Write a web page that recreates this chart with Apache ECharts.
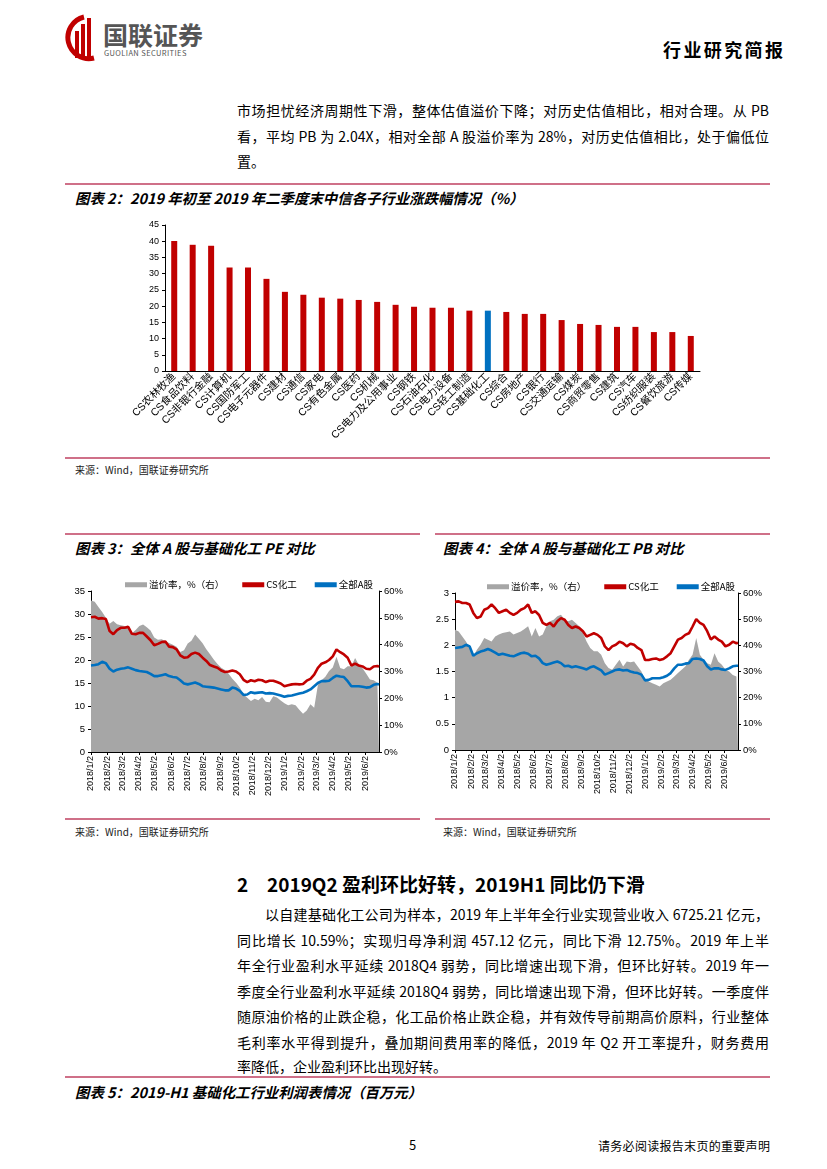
<!DOCTYPE html>
<html><head><meta charset="utf-8">
<script src="https://cdn.jsdelivr.net/npm/echarts@6/dist/echarts.min.js"></script>
<style>
body{margin:0;background:#fff;width:827px;height:1169px;position:relative;overflow:hidden;font-family:"Noto Sans CJK SC","Liberation Sans",sans-serif;color:#000;}
.a{position:absolute;}
.ln{position:absolute;font-size:14px;line-height:20px;height:20px;text-align:justify;text-align-last:justify;}
.bar{position:absolute;height:0;border-top:2px solid #CF7088;}
.ttl{position:absolute;font-size:14.4px;font-weight:700;font-style:italic;line-height:18px;white-space:nowrap;}
.src{position:absolute;font-size:10px;line-height:14px;color:#222;white-space:nowrap;}
.chart{position:absolute;}
</style></head>
<body>
<!-- header -->
<svg class="a" style="left:60px;top:14px" width="44" height="48" viewBox="0 0 44 48">
  <path d="M24 3 A21 21 0 1 0 34 44" stroke="#C00000" stroke-width="5" fill="none"/>
  <rect x="15" y="17" width="4" height="27" fill="#C00000"/>
  <rect x="21" y="10" width="4" height="34" fill="#C00000"/>
  <rect x="27" y="4" width="4" height="40" fill="#C00000"/>
</svg>
<div class="a" style="left:103px;top:20px;font-size:25px;font-weight:700;color:#555;line-height:28px;">国联证券</div>
<div class="a" style="left:104px;top:48px;font-size:7.5px;color:#555;line-height:9px;letter-spacing:0.4px;">GUOLIAN SECURITIES</div>
<div class="a" style="left:663px;top:38px;font-size:18px;font-weight:700;line-height:22px;letter-spacing:2.4px;">行业研究简报</div>

<!-- paragraph -->
<div class="ln" style="left:237px;top:100px;width:532px;">市场担忧经济周期性下滑，整体估值溢价下降；对历史估值相比，相对合理。从 PB</div>
<div class="ln" style="left:237px;top:126px;width:532px;">看，平均 PB 为 2.04X，相对全部 A 股溢价率为 28%，对历史估值相比，处于偏低位</div>
<div class="a" style="left:237px;top:151px;font-size:14px;line-height:20px;">置。</div>

<!-- figure 2 -->
<div class="bar" style="left:65px;top:183px;width:705px;"></div>
<div class="ttl" style="left:75px;top:189px;">图表 2：2019 年初至 2019 年二季度末中信各子行业涨跌幅情况（%）</div>
<div id="c2" class="chart" style="left:60px;top:210px;width:710px;height:245px;"></div>
<div class="bar" style="left:65px;top:457px;width:705px;"></div>
<div class="src" style="left:75px;top:463px;">来源：Wind，国联证券研究所</div>

<!-- figure 3 / 4 -->
<div class="bar" style="left:65px;top:533px;width:355px;"></div>
<div class="ttl" style="left:75px;top:539px;">图表 3：全体 A 股与基础化工 PE 对比</div>
<div class="bar" style="left:435px;top:533px;width:335px;"></div>
<div class="ttl" style="left:443px;top:539px;">图表 4：全体 A 股与基础化工 PB 对比</div>
<div id="c3" class="chart" style="left:60px;top:570px;width:360px;height:245px;"></div>
<div id="c4" class="chart" style="left:430px;top:570px;width:340px;height:245px;"></div>
<div class="bar" style="left:65px;top:818px;width:355px;"></div>
<div class="src" style="left:75px;top:825px;">来源：Wind，国联证券研究所</div>
<div class="bar" style="left:435px;top:818px;width:335px;"></div>
<div class="src" style="left:443px;top:825px;">来源：Wind，国联证券研究所</div>

<!-- section 2 -->
<div class="a" style="left:237px;top:871px;font-size:19px;font-weight:700;line-height:26px;">2</div>
<div class="a" style="left:267px;top:871px;font-size:19px;font-weight:700;line-height:26px;white-space:nowrap;">2019Q2 盈利环比好转，2019H1 同比仍下滑</div>
<div class="ln" style="left:265px;top:904px;width:504px;">以自建基础化工公司为样本，2019 年上半年全行业实现营业收入 6725.21 亿元，</div>
<div class="ln" style="left:237px;top:930px;width:532px;">同比增长 10.59%；实现归母净利润 457.12 亿元，同比下滑 12.75%。2019 年上半</div>
<div class="ln" style="left:237px;top:955px;width:532px;">年全行业盈利水平延续 2018Q4 弱势，同比增速出现下滑，但环比好转。2019 年一</div>
<div class="ln" style="left:237px;top:981px;width:532px;">季度全行业盈利水平延续 2018Q4 弱势，同比增速出现下滑，但环比好转。一季度伴</div>
<div class="ln" style="left:237px;top:1006px;width:532px;">随原油价格的止跌企稳，化工品价格止跌企稳，并有效传导前期高价原料，行业整体</div>
<div class="ln" style="left:237px;top:1032px;width:532px;">毛利率水平得到提升，叠加期间费用率的降低，2019 年 Q2 开工率提升，财务费用</div>
<div class="a" style="left:237px;top:1056px;font-size:14px;line-height:20px;">率降低，企业盈利环比出现好转。</div>

<div class="bar" style="left:65px;top:1076px;width:705px;"></div>
<div class="ttl" style="left:75px;top:1083px;">图表 5：2019-H1 基础化工行业利润表情况（百万元）</div>

<!-- footer -->
<div class="a" style="left:409px;top:1137px;font-size:13px;line-height:16px;">5</div>
<div class="a" style="left:598px;top:1138px;font-size:12px;line-height:16px;letter-spacing:0.3px;">请务必阅读报告末页的重要声明</div>

<script>
// ---------- Figure 2 data ----------
const industries = ['CS农林牧渔','CS食品饮料','CS非银行金融','CS计算机','CS国防军工','CS电子元器件','CS建材','CS通信','CS家电','CS有色金属','CS医药','CS机械','CS电力及公用事业','CS钢铁','CS石油石化','CS电力设备','CS轻工制造','CS基础化工','CS综合','CS房地产','CS银行','CS交通运输','CS煤炭','CS商贸零售','CS建筑','CS汽车','CS纺织服装','CS餐饮旅游','CS传媒'];
const changes = [40.1,38.9,38.6,31.9,31.9,28.4,24.4,23.5,22.6,22.3,21.9,21.3,20.4,19.8,19.5,19.5,18.6,18.6,18.2,17.6,17.6,15.7,14.5,14.2,13.6,13.6,12.0,12.0,10.8];
const highlight = 'CS基础化工';

// ---------- Figures 3/4 data (weekly readings) ----------
const sampleDates = ['2018/1/2','2018/1/9','2018/1/16','2018/1/23','2018/1/30','2018/2/6','2018/2/13','2018/2/20','2018/2/27','2018/3/6','2018/3/13','2018/3/20','2018/3/27','2018/4/3','2018/4/10','2018/4/17','2018/4/24','2018/5/1','2018/5/8','2018/5/15','2018/5/22','2018/5/29','2018/6/5','2018/6/12','2018/6/19','2018/6/26','2018/7/3','2018/7/10','2018/7/17','2018/7/24','2018/7/31','2018/8/7','2018/8/14','2018/8/21','2018/8/28','2018/9/4','2018/9/11','2018/9/18','2018/9/25','2018/10/2','2018/10/9','2018/10/16','2018/10/23','2018/10/30','2018/11/6','2018/11/13','2018/11/20','2018/11/27','2018/12/4','2018/12/11','2018/12/18','2018/12/25','2019/1/1','2019/1/8','2019/1/15','2019/1/22','2019/1/29','2019/2/5','2019/2/12','2019/2/19','2019/2/26','2019/3/5','2019/3/12','2019/3/19','2019/3/26','2019/4/2','2019/4/9','2019/4/16','2019/4/23','2019/4/30','2019/5/7','2019/5/14','2019/5/21','2019/5/28','2019/6/4','2019/6/11','2019/6/18','2019/6/25','2019/6/28'];
const tickLabels = ['2018/1/2','2018/2/2','2018/3/2','2018/4/2','2018/5/2','2018/6/2','2018/7/2','2018/8/2','2018/9/2','2018/10/2','2018/11/2','2018/12/2','2019/1/2','2019/2/2','2019/3/2','2019/4/2','2019/5/2','2019/6/2'];

const pePremium = [56.5,56.0,54.0,52.2,50.0,47.8,48.8,47.6,47.2,47.0,46.0,44.3,45.5,47.0,47.5,46.5,45.3,42.7,41.8,42.0,41.3,40.6,40.0,39.2,37.3,37.9,40.4,41.5,43.8,42.2,40.5,38.3,36.4,34.5,32.8,31.4,30.6,29.2,27.3,25.8,24.0,21.5,20.2,19.0,19.8,19.3,20.5,18.7,18.5,20.8,20.3,19.2,18.2,17.4,17.8,17.4,15.7,14.3,15.5,17.8,16.5,25.0,26.7,28.0,30.2,31.5,35.5,31.3,30.8,32.0,32.0,35.0,32.5,31.2,29.2,27.0,26.7,25.8,25.5];
const peChem = [29.3,29.4,29.0,29.1,28.9,26.3,25.6,26.5,27.0,27.0,27.2,25.7,25.6,25.9,25.9,25.1,24.3,23.2,23.5,23.9,24.0,22.9,22.8,22.3,21.0,20.5,20.6,21.3,21.6,21.3,20.5,19.8,18.9,18.6,18.3,17.7,17.4,17.5,17.7,17.5,16.9,15.7,15.2,15.6,15.4,15.7,15.6,15.2,15.5,15.5,15.2,14.9,14.3,14.5,14.7,14.8,14.7,14.8,15.5,15.9,16.8,18.3,19.2,19.5,20.0,20.8,22.3,21.7,21.2,20.5,18.8,19.2,18.8,18.6,18.1,18.0,18.6,18.7,18.5];
const peAll = [18.8,18.9,19.1,19.6,19.3,18.1,17.5,17.9,18.1,18.2,18.4,18.1,17.8,17.6,17.5,17.4,17.0,16.5,16.5,16.7,16.9,16.5,16.3,16.2,15.6,14.9,14.7,14.9,15.1,14.8,14.3,14.2,14.1,14.0,13.8,13.6,13.4,13.4,14.0,13.8,13.3,12.4,12.5,13.0,12.8,12.9,13.0,12.7,12.8,12.7,12.5,12.3,12.0,12.2,12.3,12.5,12.7,12.9,13.2,13.6,14.3,15.0,15.4,15.4,15.5,16.1,16.6,16.4,16.3,15.4,14.3,14.3,14.3,14.2,14.0,14.1,14.6,14.8,14.7];

const pbPremium = [46.0,45.3,43.4,41.5,39.0,35.8,38.3,40.2,42.8,42.1,41.5,43.4,44.1,44.7,45.0,45.3,44.1,44.7,45.3,46.2,47.3,43.4,46.6,43.4,44.1,47.3,49.2,49.8,51.1,51.7,49.8,49.2,49.8,48.5,47.3,44.7,41.5,39.0,37.7,37.7,36.4,33.2,31.3,30.7,32.6,34.5,31.9,33.8,33.5,33.8,31.9,30.0,26.8,26.2,25.5,24.9,24.3,25.5,26.2,26.8,28.1,29.4,30.7,31.9,34.5,36.4,42.8,36.4,34.5,33.2,32.6,37.0,33.8,32.6,30.7,30.0,28.7,28.1,27.8];
const pbChem = [2.83,2.84,2.81,2.81,2.78,2.62,2.52,2.55,2.68,2.71,2.78,2.71,2.62,2.65,2.68,2.62,2.58,2.62,2.68,2.71,2.78,2.62,2.65,2.58,2.43,2.39,2.43,2.36,2.46,2.52,2.49,2.39,2.33,2.36,2.33,2.27,2.17,2.20,2.23,2.20,2.14,1.98,1.91,1.98,2.01,2.07,2.04,1.98,2.03,2.01,1.95,1.91,1.72,1.72,1.74,1.75,1.72,1.74,1.79,1.85,1.98,2.11,2.14,2.20,2.23,2.36,2.50,2.43,2.39,2.27,2.11,2.17,2.11,2.07,1.98,2.01,2.07,2.04,2.05];
const pbAll = [1.95,1.96,1.97,2.01,1.98,1.80,1.85,1.88,1.90,1.93,1.90,1.86,1.82,1.84,1.82,1.80,1.79,1.82,1.85,1.86,1.84,1.79,1.80,1.75,1.66,1.63,1.65,1.67,1.69,1.66,1.60,1.61,1.58,1.60,1.58,1.56,1.54,1.58,1.60,1.56,1.52,1.44,1.47,1.50,1.53,1.54,1.52,1.53,1.50,1.48,1.47,1.44,1.33,1.34,1.37,1.37,1.37,1.39,1.42,1.47,1.56,1.63,1.63,1.65,1.66,1.74,1.75,1.74,1.71,1.60,1.54,1.56,1.56,1.54,1.53,1.56,1.60,1.61,1.61];

const seriesNames = ['溢价率，%（右）','CS化工','全部A股'];
const colors = {area:'#A6A6A6', chem:'#C00000', all:'#0070C0'};
const FONT = '"Liberation Sans","Noto Sans CJK SC",sans-serif';

// ---------- Figure 2 ----------
const c2 = echarts.init(document.getElementById('c2'), null, {renderer:'canvas'});
c2.setOption({
  animation:false,
  textStyle:{fontFamily:FONT},
  grid:{left:105,right:70,top:15,bottom:84},
  xAxis:{type:'category',data:industries,
    axisLine:{lineStyle:{color:'#000',width:1}},
    axisTick:{length:3,lineStyle:{color:'#000'}},
    axisLabel:{rotate:45,fontSize:10.5,color:'#000',margin:4,interval:0,fontFamily:FONT}},
  yAxis:{type:'value',min:0,max:45,interval:5,
    axisLine:{show:true,lineStyle:{color:'#000'}},
    axisTick:{show:true,length:3,lineStyle:{color:'#000'}},
    splitLine:{show:false},
    axisLabel:{fontSize:9,color:'#000',margin:6}},
  series:[{type:'bar',barWidth:6,
    data:changes.map((v,i)=>({value:v,itemStyle:{color:industries[i]===highlight?colors.all:colors.chem}}))}]
});

// ---------- Figures 3 and 4 ----------
const dayCats = [];
for (let t=Date.UTC(2018,0,2); t<=Date.UTC(2019,5,28); t+=86400000){
  const d=new Date(t); dayCats.push(d.getUTCFullYear()+'/'+(d.getUTCMonth()+1)+'/'+d.getUTCDate());
}
const tickSet = new Set(tickLabels);
const pair = arr => sampleDates.map((d,i)=>[d,arr[i]]);

function lineChart(el, grid, leftAxis, legendLeft, premium, chem, all){
  const ch = echarts.init(document.getElementById(el));
  ch.setOption({
    animation:false,
    textStyle:{fontFamily:FONT},
    grid:grid,
    legend:{top:grid.top-16,left:legendLeft,itemWidth:22,itemHeight:5,itemGap:18,
      textStyle:{fontSize:9.5,color:'#000',fontFamily:'"Noto Sans CJK SC",sans-serif',padding:[0,0,0,-3]},
      data:[{name:seriesNames[0],icon:'rect'},{name:seriesNames[1],icon:'rect'},{name:seriesNames[2],icon:'rect'}]},
    xAxis:{type:'category',data:dayCats,boundaryGap:false,
      axisLine:{lineStyle:{color:'#000'}},
      axisTick:{interval:(i,v)=>tickSet.has(v),length:3,lineStyle:{color:'#000'}},
      axisLabel:{interval:(i,v)=>tickSet.has(v),rotate:90,fontSize:9,color:'#000',margin:4}},
    yAxis:[
      Object.assign({type:'value',min:0,
        axisLine:{show:true,lineStyle:{color:'#000'}},
        axisTick:{show:true,length:3,lineStyle:{color:'#000'}},
        splitLine:{show:false},
        axisLabel:{fontSize:9.5,color:'#000',margin:6}}, leftAxis),
      {type:'value',min:0,max:60,interval:10,position:'right',
        axisLine:{show:true,lineStyle:{color:'#000'}},
        axisTick:{show:true,length:3,lineStyle:{color:'#000'}},
        splitLine:{show:false},
        axisLabel:{fontSize:9.5,color:'#000',margin:5,formatter:'{value}%'}}
    ],
    series:[
      {name:seriesNames[0],type:'line',yAxisIndex:1,data:pair(premium),symbol:'none',
        lineStyle:{width:0,color:colors.area},itemStyle:{color:colors.area},
        areaStyle:{color:colors.area,opacity:1},z:1},
      {name:seriesNames[1],type:'line',data:pair(chem),symbol:'none',
        lineStyle:{width:2.6,color:colors.chem},itemStyle:{color:colors.chem},z:3},
      {name:seriesNames[2],type:'line',data:pair(all),symbol:'none',
        lineStyle:{width:2.6,color:colors.all},itemStyle:{color:colors.all},z:4}
    ]
  });
}
lineChart('c3',{left:31,right:41,top:21,bottom:63},{max:35,interval:5},60,pePremium,peChem,peAll);
lineChart('c4',{left:25,right:32,top:23,bottom:65},{max:3,interval:0.5},52,pbPremium,pbChem,pbAll);
</script>
</body></html>
